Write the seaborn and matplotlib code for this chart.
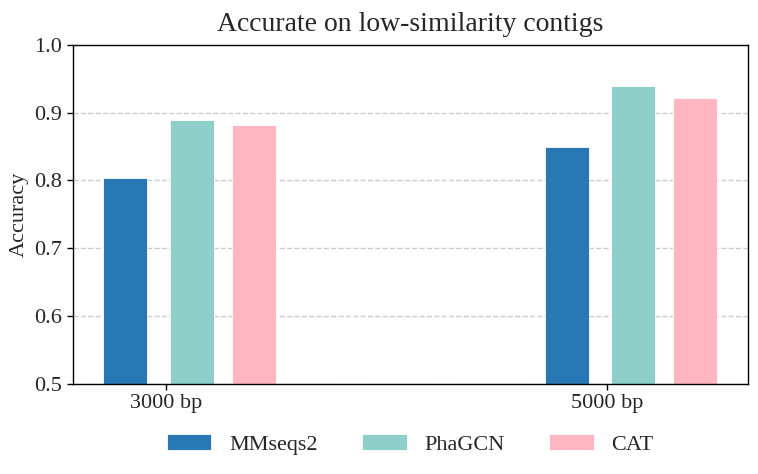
import matplotlib
matplotlib.use("Agg")
import matplotlib.pyplot as plt
import seaborn as sns
import pandas as pd

# ---- data ----
lengths = ["3000 bp", "5000 bp"]
methods = ["MMseqs2", "PhaGCN", "CAT"]
mmseqs2 = [0.803, 0.850]
phagcn = [0.890, 0.940]
cat = [0.882, 0.922]
colors = ["#2878B5", "#8ECFC9", "#FFB6C1"]

# layout (style): bar offsets from each group's tick, and bar width
offsets = [-0.0917, 0.0584, 0.1993]
bar_width = 0.1

rows = []
for m, off, vals in zip(methods, offsets, [mmseqs2, phagcn, cat]):
    for gi, (l, v) in enumerate(zip(lengths, vals)):
        rows.append({"pos": gi + off, "method": m, "accuracy": v})
df = pd.DataFrame(rows)
min_step = pd.Series(sorted(df["pos"].unique())).diff().min()

sns.set_style("ticks")
plt.rcParams["font.family"] = ["Liberation Serif", "DejaVu Serif"]

fig, ax = plt.subplots(figsize=(7.58, 4.74), dpi=100)
fig.subplots_adjust(left=0.0957, right=0.9868, top=0.905, bottom=0.1905)

sns.barplot(data=df, x="pos", y="accuracy", hue="method", hue_order=methods,
            palette=colors, saturation=1, native_scale=True, dodge=False,
            width=bar_width / min_step, edgecolor="white", linewidth=0.6,
            errorbar=None, ax=ax)

ax.set_ylim(0.5, 1.0)
ax.set_yticks([0.5, 0.6, 0.7, 0.8, 0.9, 1.0])
ax.margins(x=0.05)
ax.autoscale_view()
ax.set_xticks(range(len(lengths)))
ax.set_xticklabels(lengths)
ax.tick_params(axis="both", labelsize=16, length=4, width=1, color="black")
ax.set_xlabel("")
ax.set_ylabel("Accuracy", fontsize=16)
ax.set_title("Accurate on low-similarity contigs", fontsize=20, pad=10)

ax.yaxis.grid(True, linestyle="--", color="#cccccc", linewidth=1.0)
ax.xaxis.grid(False)
ax.set_axisbelow(True)
for s in ax.spines.values():
    s.set_visible(True)
    s.set_color("black")
    s.set_linewidth(1.0)

ax.legend(loc="center", bbox_to_anchor=(0.5, -0.18), ncol=3, frameon=False,
          fontsize=16, handlelength=2.0, handletextpad=0.8, columnspacing=2.0)

fig.savefig("out.png", dpi=100)
